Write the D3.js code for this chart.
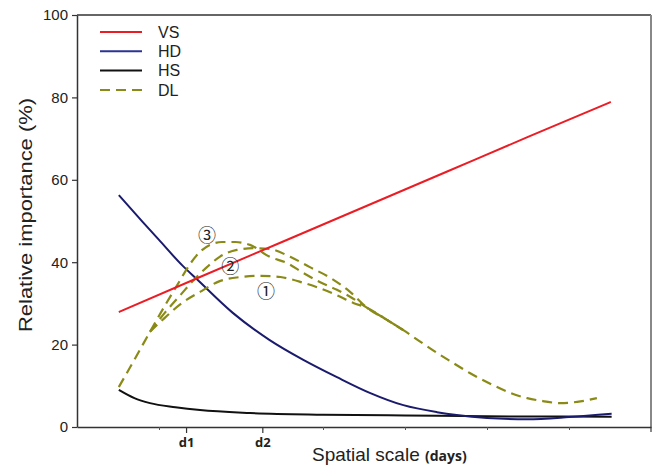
<!DOCTYPE html>
<html>
<head>
<meta charset="utf-8">
<script src="https://cdn.jsdelivr.net/npm/d3@7"></script>
<style>
  body { margin: 0; background: #fff; }
  svg { font-family: "Liberation Sans", Arial, sans-serif; }
</style>
</head>
<body>
<svg></svg>
<script>
const width = 654;
const height = 469;

// axis ticks
const yTicks = [0, 20, 40, 60, 80, 100];
const minorTicks = [1, 3, 4, 5, 6];
const namedTickValues = [1.33, 2.26];
const namedTickLabels = ['d1', 'd2'];

// series
const vsX = [0.51, 1.5, 2.5, 3.5, 4.5, 5.5, 6.51];
const vsY = [27.9, 36.4, 44.9, 53.4, 61.9, 70.4, 78.9];

const hdX = [0.51, 0.8, 1.0, 1.29, 1.46, 1.9, 2.35, 2.76, 3.17, 3.57, 3.98, 4.39, 4.63, 5.0, 5.49, 6.0, 6.52];
const hdY = [56.3, 49.8, 45.4, 39.1, 35.9, 27.7, 21.1, 16.3, 12.1, 8.3, 5.3, 3.6, 2.9, 2.2, 1.9, 2.4, 3.2];

const hsX = [0.51, 0.7, 0.89, 1.2, 1.5, 2.11, 3.0, 4.0, 5.0, 6.52];
const hsY = [9.0, 7.0, 5.8, 4.8, 4.1, 3.4, 3.0, 2.8, 2.6, 2.5];

const dl1X = [0.89, 1.07, 1.28, 1.50, 1.74, 1.99, 2.23, 2.48, 2.76, 2.96, 3.17, 3.37, 3.54, 3.78, 3.98];
const dl1Y = [23.1, 26.5, 30.1, 32.8, 35.4, 36.4, 36.7, 36.4, 35.0, 33.7, 32.0, 30.1, 28.9, 26.0, 23.5];

const dl2X = [0.89, 1.07, 1.26, 1.41, 1.585, 1.74, 1.95, 2.15, 2.35, 2.60, 2.84, 3.09, 3.33, 3.54, 3.78, 3.98];
const dl2Y = [23.1, 27.7, 32.0, 35.4, 38.8, 41.3, 43.0, 43.4, 43.2, 41.3, 38.8, 36.2, 32.8, 28.9, 26.0, 23.5];

const dl3X = [0.51, 0.71, 0.89, 1.07, 1.23, 1.38, 1.50, 1.62, 1.77, 1.93, 2.11, 2.35, 2.56, 2.76, 2.96, 3.17, 3.33, 3.54,
              3.78, 3.98, 4.18, 4.39, 4.59, 4.79, 5.07, 5.28, 5.49, 5.68, 5.89, 6.10, 6.34];
const dl3Y = [9.7, 16.7, 23.1, 29.4, 34.7, 39.6, 42.5, 44.2, 44.9, 44.9, 44.2, 41.3, 39.8, 37.4, 35.2, 33.3, 31.6, 28.9,
              26.0, 23.5, 20.8, 18.0, 15.5, 13.1, 10.2, 8.3, 7.0, 6.3, 5.8, 6.1, 7.0];

const scenarioLabels = ['\u2460', '\u2461', '\u2462'];
const scenarioX = [2.305, 1.87, 1.585];
const scenarioY = [32.9, 38.8, 46.4];

const legendNames = ['VS', 'HD', 'HS', 'DL'];

const colors = { VS: '#ec1c24', HD: '#1b1b6e', HS: '#111', DL: '#8a8a17' };

const svg = d3.select('svg').attr('width', width).attr('height', height);

const x = d3.scaleLinear().domain([0, 7]).range([77, 651]);
const y = d3.scaleLinear().domain([0, 100]).range([427, 15]);

const zip = (xs, ys) => xs.map((v, i) => [v, ys[i]]);
const line = d3.line()
    .x(d => x(d[0]))
    .y(d => y(d[1]))
    .curve(d3.curveMonotoneX);

// frame: top and right
svg.append('line')
    .attr('x1', 77).attr('x2', 651).attr('y1', y(100)).attr('y2', y(100))
    .attr('stroke', '#333').attr('stroke-width', 1.5);
svg.append('line')
    .attr('x1', 651).attr('x2', 651).attr('y1', y(100)).attr('y2', 432)
    .attr('stroke', '#888').attr('stroke-width', 2);

// y axis
const yAxis = svg.append('g')
    .attr('transform', 'translate(77,0)')
    .call(d3.axisLeft(y).tickValues(yTicks).tickSize(5).tickPadding(4).tickSizeOuter(0));
yAxis.select('.domain').attr('stroke', '#333').attr('stroke-width', 1.5);
yAxis.selectAll('.tick line').attr('stroke', '#333').attr('stroke-width', 1.2);
yAxis.selectAll('.tick text')
    .attr('font-family', '"Liberation Sans", Arial, sans-serif')
    .attr('font-size', 15).attr('fill', '#222');

// x axis: minor ticks, then named ticks d1, d2
const xAxis = svg.append('g')
    .attr('transform', 'translate(0,427)')
    .call(d3.axisBottom(x).tickValues(minorTicks).tickSize(3).tickFormat('').tickSizeOuter(0));
xAxis.select('.domain').attr('stroke', '#333').attr('stroke-width', 1.5);
xAxis.selectAll('.tick line').attr('stroke', '#555');

const xNamed = svg.append('g')
    .attr('transform', 'translate(0,427)')
    .call(d3.axisBottom(x).tickValues(namedTickValues).tickSize(6).tickPadding(5)
        .tickFormat((d, i) => namedTickLabels[i]).tickSizeOuter(0));
xNamed.select('.domain').remove();
xNamed.selectAll('.tick line').attr('stroke', '#333').attr('stroke-width', 1.2);
xNamed.selectAll('.tick text')
    .attr('font-family', '"Open Sans", "Liberation Sans", sans-serif')
    .attr('font-weight', 'bold').attr('font-size', 13).attr('fill', '#222');

// axis titles
svg.append('text')
    .attr('transform', 'translate(32,215) rotate(-90)')
    .attr('text-anchor', 'middle')
    .attr('font-size', 19)
    .attr('textLength', 234).attr('lengthAdjust', 'spacingAndGlyphs')
    .attr('fill', '#222')
    .text('Relative importance (%)');

const xTitle = svg.append('text')
    .attr('x', 312).attr('y', 461)
    .attr('fill', '#222');
xTitle.append('tspan').attr('font-size', 19).text('Spatial scale ');
xTitle.append('tspan')
    .attr('font-family', '"Open Sans", "Liberation Sans", sans-serif')
    .attr('font-weight', 'bold').attr('font-size', 14).text('(days)');

// curves
const series = [
    { name: 'HS', data: zip(hsX, hsY), dash: null },
    { name: 'HD', data: zip(hdX, hdY), dash: null },
    { name: 'DL', data: zip(dl1X, dl1Y), dash: '10,6' },
    { name: 'DL', data: zip(dl2X, dl2Y), dash: '10,6' },
    { name: 'DL', data: zip(dl3X, dl3Y), dash: '10,6' },
    { name: 'VS', data: zip(vsX, vsY), dash: null }
];

svg.append('g').selectAll('path')
    .data(series)
    .enter().append('path')
    .attr('d', d => line(d.data))
    .attr('fill', 'none')
    .attr('stroke', d => colors[d.name])
    .attr('stroke-width', d => d.name === 'DL' ? 2.2 : 2)
    .attr('stroke-dasharray', d => d.dash);

// scenario labels
svg.append('g').selectAll('text')
    .data(scenarioLabels)
    .enter().append('text')
    .attr('x', (d, i) => x(scenarioX[i]))
    .attr('y', (d, i) => y(scenarioY[i]))
    .attr('dy', '0.35em')
    .attr('text-anchor', 'middle')
    .attr('font-family', '"Noto Sans CJK SC", "DejaVu Sans", sans-serif')
    .attr('font-size', 18)
    .attr('fill', '#222')
    .text(d => d);

// legend
const legend = svg.append('g').selectAll('g')
    .data(legendNames)
    .enter().append('g')
    .attr('transform', (d, i) => `translate(100,${32 + i * 19.3})`);
legend.append('line')
    .attr('x1', 0).attr('x2', 42)
    .attr('stroke', d => d === 'HD' ? '#2b3590' : colors[d])
    .attr('stroke-width', 2)
    .attr('stroke-dasharray', d => d === 'DL' ? '10,6' : null);
legend.append('text')
    .attr('x', 58).attr('dy', '0.36em')
    .attr('font-size', 16)
    .attr('fill', '#222')
    .text(d => d);
</script>
</body>
</html>
